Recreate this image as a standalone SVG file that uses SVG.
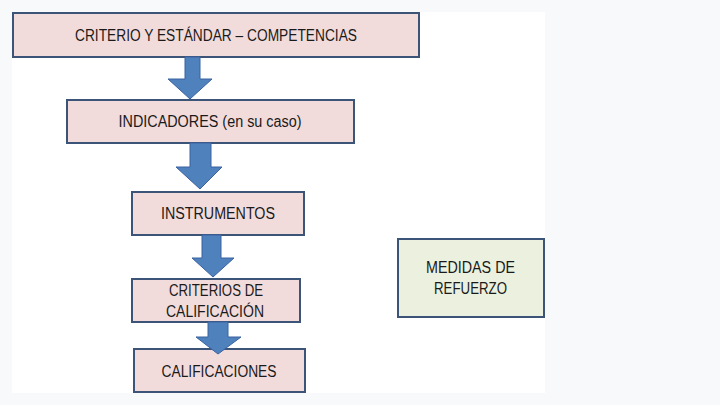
<svg xmlns="http://www.w3.org/2000/svg" width="720" height="405" viewBox="0 0 720 405">
<style>
.box{fill:#f2dcdb;stroke:#3d5479;stroke-width:2}
.green{fill:#ebf1de;stroke:#3d5479;stroke-width:2}
.arr{fill:#4f81bd;stroke:#3a62a0;stroke-width:1}
text{font-family:"Liberation Sans",Arial,sans-serif;font-size:16px;fill:#1a1a1a}
</style>
<rect x="0" y="0" width="720" height="405" fill="#f8f9fa"/>
<rect x="12" y="12" width="533" height="381" fill="#ffffff"/>
<g id="node-criterio">
<rect class="box" x="13" y="13" width="406" height="44"/>
<text x="75" y="40.5" textLength="282" lengthAdjust="spacingAndGlyphs">CRITERIO Y ESTÁNDAR – COMPETENCIAS</text>
</g>
<g id="node-indicadores">
<rect class="box" x="67" y="100" width="287" height="43"/>
<text x="118.5" y="127" textLength="183" lengthAdjust="spacingAndGlyphs">INDICADORES (en su caso)</text>
</g>
<g id="node-instrumentos">
<rect class="box" x="132" y="192" width="172" height="43"/>
<text x="161" y="219" textLength="114" lengthAdjust="spacingAndGlyphs">INSTRUMENTOS</text>
</g>
<g id="node-criterios-calif">
<rect class="box" x="132" y="279" width="168" height="43"/>
<text x="169" y="295.5" textLength="94" lengthAdjust="spacingAndGlyphs">CRITERIOS DE</text>
<text x="166" y="316.5" textLength="98" lengthAdjust="spacingAndGlyphs">CALIFICACIÓN</text>
</g>
<g id="node-calificaciones">
<rect class="box" x="134" y="349" width="171" height="43"/>
<text x="161.5" y="376.5" textLength="115" lengthAdjust="spacingAndGlyphs">CALIFICACIONES</text>
</g>
<g id="node-medidas">
<rect class="green" x="398" y="239" width="146" height="78"/>
<text x="426" y="273" textLength="89" lengthAdjust="spacingAndGlyphs">MEDIDAS DE</text>
<text x="434" y="293.5" textLength="73" lengthAdjust="spacingAndGlyphs">REFUERZO</text>
</g>
<g id="connectors">
<polygon class="arr" points="185,57 200,57 200,79 212,79 190,99 168,79 185,79"/>
<polygon class="arr" points="190,143 211,143 211,167 222,167 200,189 176,167 190,167"/>
<polygon class="arr" points="202,235 221,235 221,258 234,258 213,277 192,258 202,258"/>
<polygon class="arr" points="208,322 228,322 228,337 241,337 218,354 196,337 208,337"/>
</g>
</svg>
